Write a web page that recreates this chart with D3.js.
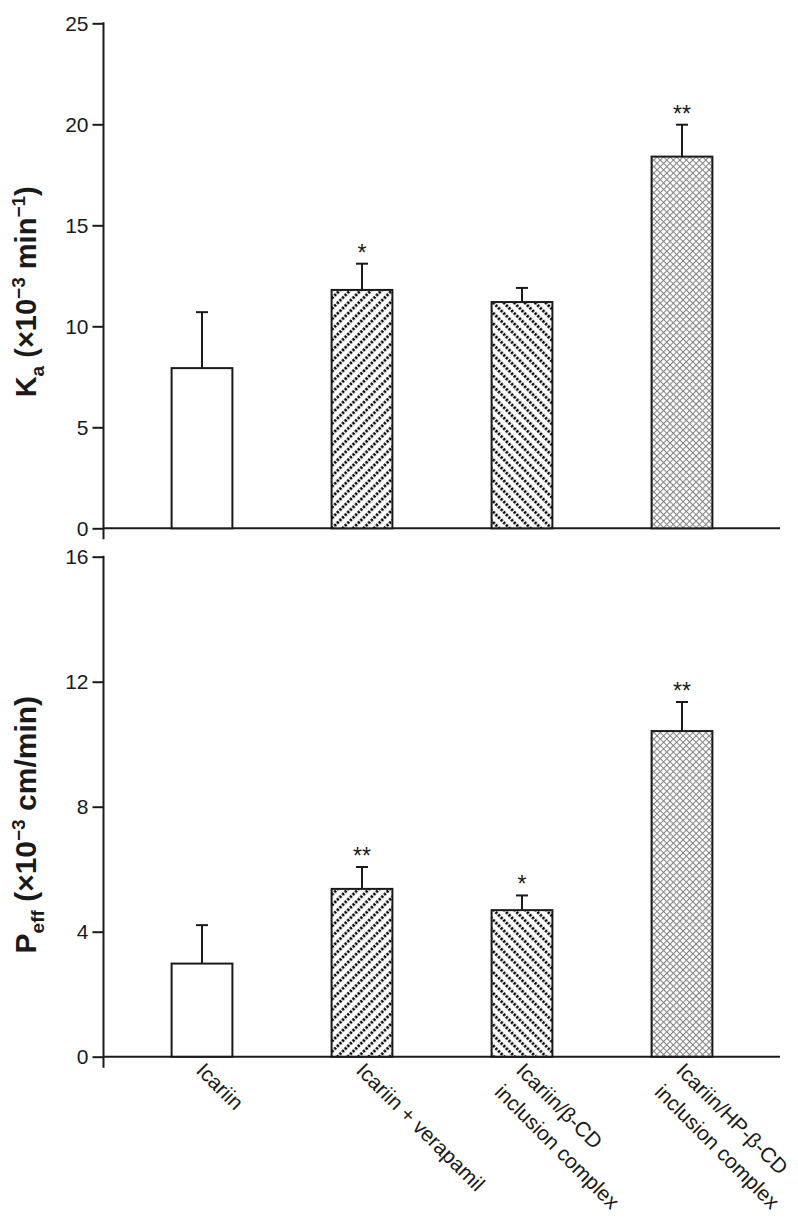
<!DOCTYPE html>
<html>
<head>
<meta charset="utf-8">
<script src="https://cdn.jsdelivr.net/npm/d3@7"></script>
<style>
  html, body { margin: 0; padding: 0; background: #fff; }
  svg { display: block; }
  text { font-family: "Liberation Sans", Arial, Helvetica, sans-serif; fill: #1a1a1a; }
</style>
</head>
<body>
<svg id="chart" width="798" height="1227"></svg>
<script>
// ---- data ----
const categories = ["Icariin", "Icariin + verapamil", "Icariin/β-CD inclusion complex", "Icariin/HP-β-CD inclusion complex"];
const categoryLines = [["Icariin"], ["Icariin + verapamil"], ["Icariin/β-CD", "inclusion complex"], ["Icariin/HP-β-CD", "inclusion complex"]];
const kaValues = [7.93, 11.8, 11.2, 18.4];
const kaErrors = [2.77, 1.3, 0.7, 1.58];
const kaSig = ["", "*", "", "**"];
const peffValues = [2.98, 5.37, 4.69, 10.42];
const peffErrors = [1.23, 0.70, 0.47, 0.93];
const peffSig = ["", "**", "*", "**"];
const kaTicks = [0, 5, 10, 15, 20, 25];
const peffTicks = [0, 4, 8, 12, 16];
const fills = ["white", "url(#hatchFwd)", "url(#hatchBack)", "url(#cross)"];

const svg = d3.select("#chart");
const defs = svg.append("defs");

function hatch(id, angle) {
  const s = 7.4;
  const p = defs.append("pattern").attr("id", id).attr("patternUnits", "userSpaceOnUse")
    .attr("width", s).attr("height", s).attr("patternTransform", `rotate(${angle})`);
  p.append("rect").attr("width", s).attr("height", s).attr("fill", "white");
  p.append("line").attr("x1", 1.6).attr("x2", 1.6).attr("y1", 0).attr("y2", s)
    .attr("stroke", "#000").attr("stroke-width", 2.8).attr("stroke-dasharray", "2.4 1.3");
}
hatch("hatchFwd", 45);
hatch("hatchBack", -45);
const cs = 4.6;
const cp = defs.append("pattern").attr("id", "cross").attr("patternUnits", "userSpaceOnUse")
  .attr("width", cs).attr("height", cs).attr("patternTransform", "rotate(45)");
cp.append("rect").attr("width", cs).attr("height", cs).attr("fill", "white");
cp.append("line").attr("x1", 0.5).attr("x2", 0.5).attr("y1", 0).attr("y2", cs).attr("stroke", "#808080").attr("stroke-width", 1);
cp.append("line").attr("y1", 0.5).attr("y2", 0.5).attr("x1", 0).attr("x2", cs).attr("stroke", "#808080").attr("stroke-width", 1);

const axisX = 103.5;
const xRight = 780;
const x = d3.scaleBand().domain(categories).range([122, 762]).paddingInner(0.62).paddingOuter(0.31);

function panel(values, errors, sig, ticks, yRange, titleParts) {
  const y = d3.scaleLinear().domain([ticks[0], ticks[ticks.length - 1]]).range(yRange);
  const g = svg.append("g");
  const y0 = y(0);

  // y axis
  const ax = g.append("g").attr("transform", `translate(${axisX},0)`)
    .call(d3.axisLeft(y).tickValues(ticks).tickSize(11).tickSizeOuter(0).tickPadding(4));
  ax.select(".domain").remove();
  ax.selectAll(".tick line").attr("stroke", "#1a1a1a").attr("stroke-width", 2);
  ax.selectAll(".tick text").attr("font-size", 21).attr("fill", "#1a1a1a")
    .style("font-family", '"Liberation Sans", Arial, sans-serif');
  g.append("line").attr("x1", axisX).attr("x2", axisX).attr("y1", y(ticks[ticks.length - 1]) - 1).attr("y2", y0 + 11)
    .attr("stroke", "#1a1a1a").attr("stroke-width", 2);
  // x axis line
  g.append("line").attr("x1", axisX).attr("x2", xRight).attr("y1", y0).attr("y2", y0)
    .attr("stroke", "#1a1a1a").attr("stroke-width", 2);

  // bars
  g.selectAll("rect.bar").data(values).join("rect").attr("class", "bar")
    .attr("x", (d, i) => x(categories[i]))
    .attr("y", d => y(d))
    .attr("width", x.bandwidth())
    .attr("height", d => y0 - y(d))
    .attr("fill", (d, i) => fills[i])
    .attr("stroke", "#1a1a1a").attr("stroke-width", 2);

  // error bars
  const cx = i => x(categories[i]) + x.bandwidth() / 2;
  g.selectAll("line.err").data(values).join("line").attr("class", "err")
    .attr("x1", (d, i) => cx(i)).attr("x2", (d, i) => cx(i))
    .attr("y1", d => y(d)).attr("y2", (d, i) => y(d + errors[i]))
    .attr("stroke", "#1a1a1a").attr("stroke-width", 2);
  g.selectAll("line.cap").data(values).join("line").attr("class", "cap")
    .attr("x1", (d, i) => cx(i) - 6).attr("x2", (d, i) => cx(i) + 6)
    .attr("y1", (d, i) => y(d + errors[i])).attr("y2", (d, i) => y(d + errors[i]))
    .attr("stroke", "#1a1a1a").attr("stroke-width", 2);
  g.selectAll("text.sig").data(values).join("text").attr("class", "sig")
    .attr("x", (d, i) => cx(i)).attr("y", (d, i) => y(d + errors[i]) - 3)
    .attr("text-anchor", "middle").attr("font-size", 23)
    .text((d, i) => sig[i]);

  // title
  const cyMid = (yRange[0] + yRange[1]) / 2;
  const t = g.append("text").attr("transform", `translate(36,${cyMid + titleParts.shift}) rotate(-90)`)
    .attr("text-anchor", "middle").attr("font-weight", "bold").attr("font-size", 29);
  titleParts.parts.forEach(p => {
    t.append("tspan").attr("font-size", p.size).attr("dy", p.dy).text(p.t);
  });
  return y;
}

panel(kaValues, kaErrors, kaSig, kaTicks, [528.3, 23.3], {
  shift: 16,
  parts: [
    { t: "K", size: 29, dy: 0 },
    { t: "a", size: 19, dy: 8 },
    { t: " (×10", size: 29, dy: -8 },
    { t: "−3", size: 19, dy: -11 },
    { t: " min", size: 29, dy: 11 },
    { t: "−1", size: 19, dy: -11 },
    { t: ")", size: 29, dy: 11 }
  ]
});
const yb = panel(peffValues, peffErrors, peffSig, peffTicks, [1056.7, 556.7], {
  shift: 18,
  parts: [
    { t: "P", size: 30, dy: 0 },
    { t: "eff", size: 19, dy: 8 },
    { t: " (×10", size: 30, dy: -8 },
    { t: "−3", size: 19, dy: -11 },
    { t: " cm/min)", size: 30, dy: 11 }
  ]
});

// category labels
const lab = svg.append("g");
categoryLines.forEach((lines, i) => {
  const cx = x(categories[i]) + x.bandwidth() / 2;
  const t = lab.append("text")
    .attr("transform", `translate(${cx - 1},${yb(0) + 9}) rotate(45)`)
    .attr("font-size", 21).attr("text-anchor", "start");
  lines.forEach((l, j) => {
    t.append("tspan").attr("x", 0).attr("dy", j === 0 ? "0.4em" : "1.45em").text(l);
  });
});
</script>
</body>
</html>
